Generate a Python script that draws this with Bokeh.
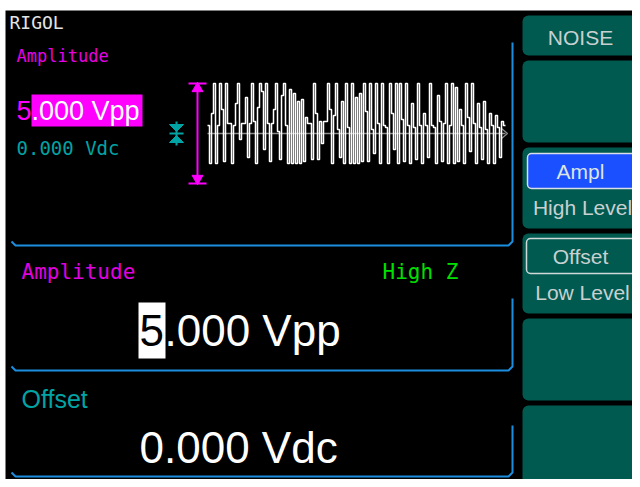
from bokeh.plotting import figure
from bokeh.models import Range1d
from bokeh.core.properties import value
from bokeh.embed import file_html
from bokeh.resources import INLINE

# ---------------- data ----------------
noise_volts = [0.4, -1.5, 1.0, 2.5, -1.5, 0.4, 2.5, 1.2, -1.4, 2.5,
               0.5, 0.5, -1.5, 0.4, 1.5, 2.5, -0.3, 0.5, 0.5, 1.8,
               -1.2, 0.5, 2.5, 0.6, -1.5, 1.3, 2.5, 2.1, -0.8, 2.5,
               0.5, -1.4, 0.5, 1.2, 2.5, 0.1, -1.3, 1.9, 2.5, 0.4,
               -1.5, 2.2, -1.5, 2.0, -1.5, 1.6, -1.5, 1.7, -1.4, 0.8,
               0.5, 0.5, -1.3, 2.5, 1.0, -1.3, 0.6, -0.5, 0.6, 0.6,
               2.5, 1.2, -1.5, 0.9, 2.5, 0.2, -1.2, 1.6, -1.5, 2.5,
               0.3, -1.5, 2.5, -1.5, 1.8, -1.5, 2.0, -1.4, 2.5, 1.1,
               -1.4, 2.5, 0.2, -1.0, 2.5, 0.5, -1.5, 2.5, 0.4, 0.3,
               -1.5, 2.5, 1.0, -0.8, 2.5, -1.5, 2.5, 0.7, -1.4, 2.5,
               0.4, -1.5, 1.5, 0.3, -1.3, 2.5, 0.4, -1.5, 1.0, 0.4,
               -1.2, 2.5, 0.4, 0.3, -1.5, 1.9, 0.6, -1.4, 0.5, 2.5,
               -1.5, 0.4, 2.5, -1.5, 2.3, -1.4, 1.2, 0.4, -1.5, 2.5,
               0.8, -0.9, 2.5, 0.5, -1.5, 1.5, 0.3, -1.3, 1.6, 0.2,
               -1.5, 1.0, 0.4, -1.5, 0.9, 0.3, -1.2, 0.6, 0.4]
amplitude_vpp = 5.0
offset_vdc = 0.0
brand = "RIGOL"
param_name = "Amplitude"
offset_name = "Offset"
load_label = "High Z"
amp_text = "5.000 Vpp"
off_text = "0.000 Vdc"
softkey_titles = ["NOISE", "", "Ampl", "Offset", "", ""]
softkey_subs = ["", "", "High Level", "Low Level", "", ""]

# ---------------- colours / fonts ----------------
MAG = "#ff00ff"
TEAL = "#00a4a4"
BLUE = "#1c8ee0"
BTN = "#005a50"
BTN_TXT = "#c8d0d0"
MONO = value("DejaVu Sans Mono")
SANS = value("Liberation Sans")

p = figure(width=632, height=479, x_range=Range1d(0, 632), y_range=Range1d(479, 0),
           output_backend="svg", toolbar_location=None, min_border=0)
p.axis.visible = False
p.grid.visible = False
p.outline_line_color = None
p.background_fill_color = "white"
p.border_fill_color = "white"

# scope scales: volts and sample index
PX_PER_V = 20.0
Y0 = 133.0
p.extra_y_ranges = {"volt": Range1d((Y0 - 479) / PX_PER_V, (Y0 - 0) / PX_PER_V)}
X0, DX = 207.0, 2.0
p.extra_x_ranges = {"samp": Range1d((0 - X0) / DX, (632 - X0) / DX)}

# screen
p.quad(left=5, right=640, top=10, bottom=487, fill_color="black", line_color=None)

# soft keys
btn_tops = [15, 60, 147, 233, 318, 405]
btn_bots = [55, 142, 228, 313, 400, 485]
p.quad(left=522, right=638, top=btn_tops, bottom=btn_bots, fill_color=BTN, line_color=None,
       border_radius=6)
p.quad(left=527, right=637, top=153, bottom=188, fill_color="#1a50ff", line_color="#d8dde8",
       line_width=1.5, border_radius=4)
p.quad(left=526, right=637, top=238, bottom=273, fill_color=BTN, line_color="#d0d8d8",
       line_width=1.5, border_radius=4)
title_y = [37, None, 171, 256, None, None]
sub_y = [None, None, 207, 292, None, None]
for t, s, ty, sy in zip(softkey_titles, softkey_subs, title_y, sub_y):
    if t:
        p.text(x=[580], y=[ty], text=[t], text_font=SANS, text_font_size="21px",
               text_color="#dde4e4" if t == "Ampl" else BTN_TXT, text_align="center",
               text_baseline="middle")
    if s:
        p.text(x=[582], y=[sy], text=[s], text_font=SANS, text_font_size="21px",
               text_color=BTN_TXT, text_align="center", text_baseline="middle")

# panel borders
p.line(x=[11, 15, 508, 512, 512], y=[241, 245, 245, 241, 42], line_color=BLUE, line_width=2)
p.line(x=[11, 15, 508, 512, 512], y=[366, 370, 370, 366, 298], line_color=BLUE, line_width=2)
p.line(x=[11, 15, 508, 512, 512], y=[472, 476, 476, 472, 425], line_color=BLUE, line_width=2)

# top-left labels
p.text(x=[9], y=[22], text=[brand], text_font=MONO, text_font_size="18px",
       text_color="#e4e4e4", text_baseline="middle")
p.text(x=[16], y=[55], text=[param_name], text_font=MONO, text_font_size="17px",
       text_color="#e600e6", text_baseline="middle")
p.quad(left=31, right=142, top=94, bottom=126, fill_color=MAG, line_color=None)
p.text(x=[16], y=[110], text=[amp_text[0]], text_font=SANS, text_font_size="27px",
       text_color=MAG, text_baseline="middle")
p.text(x=[31], y=[110], text=[amp_text[1:]], text_font=SANS, text_font_size="27px",
       text_color="white", text_baseline="middle")
p.text(x=[16], y=[147], text=[off_text], text_font=MONO, text_font_size="19px",
       text_color=TEAL, text_baseline="middle")

# offset marker (teal)
p.segment(x0=[176], y0=[121], x1=[176], y1=[145], line_color=TEAL, line_width=2)
p.segment(x0=[169], y0=[133], x1=[183], y1=[133], line_color=TEAL, line_width=2)
p.patches(xs=[[169, 183, 176], [169, 183, 176]], ys=[[124, 124, 131], [142, 142, 135]],
          fill_color=TEAL, line_color=TEAL)

# amplitude marker (magenta), in volts
half = amplitude_vpp / 2
p.segment(x0=[197], x1=[197], y0=[offset_vdc - half], y1=[offset_vdc + half],
          y_range_name="volt", line_color=MAG, line_width=2)
p.segment(x0=[188, 188], x1=[206, 206], y0=[offset_vdc + half, offset_vdc - half],
          y1=[offset_vdc + half, offset_vdc - half], y_range_name="volt", line_color=MAG,
          line_width=2)
p.triangle(x=[197], y=[offset_vdc + half - 0.25], size=11, y_range_name="volt",
           fill_color=MAG, line_color=MAG)
p.inverted_triangle(x=[197], y=[offset_vdc - half + 0.25], size=11, y_range_name="volt",
                    fill_color=MAG, line_color=MAG)

# centre line + noise trace
n = len(noise_volts)
p.segment(x0=[0], x1=[n], y0=[offset_vdc], y1=[offset_vdc], x_range_name="samp",
          y_range_name="volt", line_color="#8c8c8c", line_width=1.5)
p.line(x=[n - 2, n + 1, n - 2], y=[0.25, 0.0, -0.25], x_range_name="samp",
       y_range_name="volt", line_color="#8c8c8c", line_width=1.2)
p.step(x=list(range(n + 1)), y=noise_volts + [noise_volts[-1]], mode="after",
       x_range_name="samp", y_range_name="volt", line_color="white", line_width=1.5)

# middle panel
p.text(x=[21], y=[271], text=[param_name], text_font=MONO, text_font_size="21px",
       text_color="#e000e0", text_baseline="middle")
p.text(x=[382], y=[271], text=[load_label], text_font=MONO, text_font_size="21px",
       text_color="#00e000", text_baseline="middle")
p.quad(left=138, right=165, top=302, bottom=358, fill_color="white", line_color=None)
p.text(x=[139], y=[330], text=[amp_text[0]], text_font=SANS, text_font_size="44px",
       text_color="black", text_baseline="middle")
p.text(x=[164], y=[330], text=[amp_text[1:]], text_font=SANS, text_font_size="44px",
       text_color="white", text_baseline="middle")

# bottom panel
p.text(x=[21], y=[398], text=[offset_name], text_font=SANS, text_font_size="25px",
       text_color=TEAL, text_baseline="middle")
p.text(x=[139], y=[447], text=[off_text], text_font=SANS, text_font_size="44px",
       text_color="white", text_baseline="middle")

open("out.html", "w").write(file_html(p, INLINE))
